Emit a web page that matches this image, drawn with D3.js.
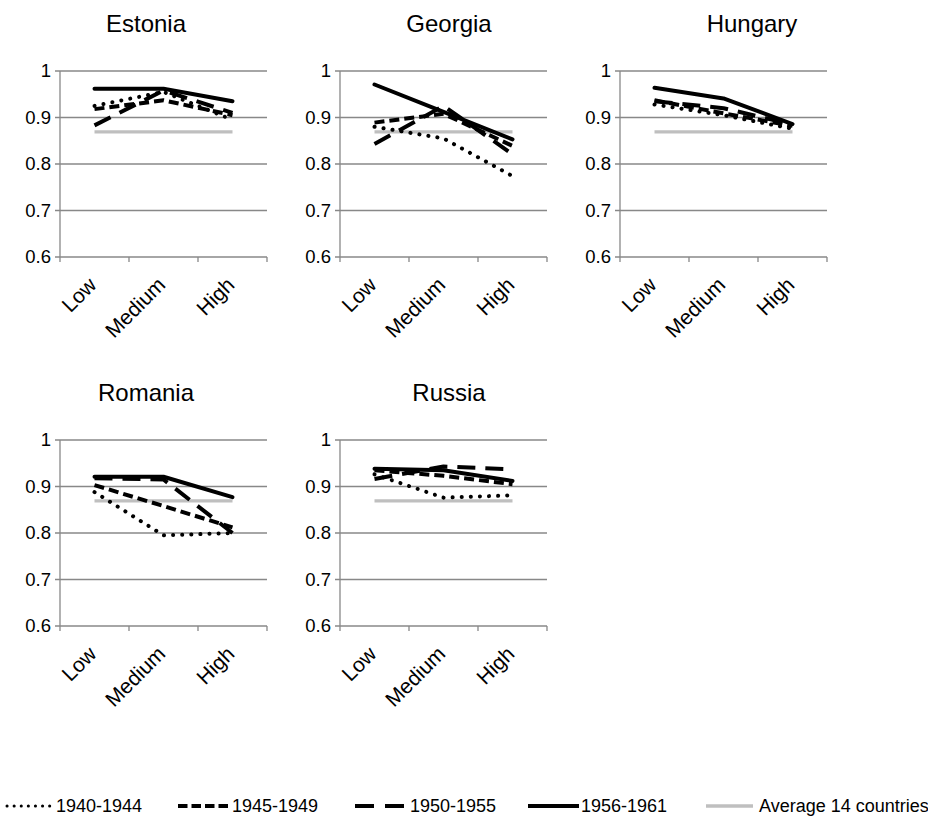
<!DOCTYPE html>
<html>
<head>
<meta charset="utf-8">
<script src="https://cdn.jsdelivr.net/npm/d3@7"></script>
<style>
  html, body { margin: 0; padding: 0; background: #fff; }
  svg { display: block; }
  text { font-family: "Liberation Sans", Arial, sans-serif; fill: #000; }
</style>
</head>
<body>
<svg id="chart" width="928" height="816"></svg>
<script>
// Education levels on the x axis
const levels = ["Low", "Medium", "High"];
// y axis ticks
const yTicks = [0.6, 0.7, 0.8, 0.9, 1];
const yTickLabels = ["0.6", "0.7", "0.8", "0.9", "1"];
// Countries (one small chart each)
const countries = ["Estonia", "Georgia", "Hungary", "Romania", "Russia"];
// Birth cohorts
const cohorts = ["1940-1944", "1945-1949", "1950-1955", "1956-1961", "Average 14 countries"];

// Values per cohort, per country: [Low, Medium, High]
const c1940 = {
  Estonia: [0.925, 0.955, 0.895],
  Georgia: [0.88, 0.855, 0.774],
  Hungary: [0.928, 0.905, 0.876],
  Romania: [0.888, 0.795, 0.80],
  Russia:  [0.926, 0.876, 0.881]
};
const c1945 = {
  Estonia: [0.918, 0.937, 0.905],
  Georgia: [0.889, 0.908, 0.839],
  Hungary: [0.937, 0.909, 0.882],
  Romania: [0.903, 0.858, 0.812],
  Russia:  [0.935, 0.923, 0.905]
};
const c1950 = {
  Estonia: [0.883, 0.958, 0.91],
  Georgia: [0.843, 0.925, 0.821],
  Hungary: [0.935, 0.92, 0.885],
  Romania: [0.918, 0.915, 0.80],
  Russia:  [0.916, 0.943, 0.937]
};
const c1956 = {
  Estonia: [0.962, 0.962, 0.935],
  Georgia: [0.971, 0.912, 0.853],
  Hungary: [0.964, 0.941, 0.886],
  Romania: [0.921, 0.921, 0.877],
  Russia:  [0.938, 0.935, 0.912]
};
const average14 = [0.869, 0.869, 0.869];

const seriesData = [c1940, c1945, c1950, c1956];

// Stroke style per cohort (chart lines and legend samples)
const styles = [
  { color: "#000", width: 4, dash: "0.1,9", cap: "round", legendDash: "0.1,7", legendWidth: 3 },
  { color: "#000", width: 4, dash: "10,5", cap: "butt", legendDash: "9.5,4", legendWidth: 4 },
  { color: "#000", width: 4, dash: "18,10", cap: "butt", legendDash: "19,11", legendWidth: 4 },
  { color: "#000", width: 4, dash: null, cap: "round", legendDash: null, legendWidth: 4 },
  { color: "#bfbfbf", width: 3.4, dash: null, cap: "butt", legendDash: null, legendWidth: 3.4 }
];

const svg = d3.select("#chart");

// Panel grid
const colX = [60, 340, 620];
const titleCX = [146, 449, 752];
const rowTop = [71, 440];
const titleBase = [32, 401];
const plotW = 207, plotH = 186;

const x = d3.scaleBand().domain(levels).range([0, plotW]).paddingInner(0).paddingOuter(0);
const y = d3.scaleLinear().domain([0.6, 1]).range([plotH, 0]);

countries.forEach((country, i) => {
  const col = i % 3, row = Math.floor(i / 3);
  const g = svg.append("g").attr("transform", `translate(${colX[col]},${rowTop[row]})`);

  svg.append("text")
    .attr("x", titleCX[col]).attr("y", titleBase[row])
    .attr("text-anchor", "middle")
    .style("font-size", "24px")
    .text(country);

  // horizontal gridlines
  g.selectAll("line.grid").data(yTicks).enter().append("line")
    .attr("x1", -5).attr("x2", plotW)
    .attr("y1", d => y(d)).attr("y2", d => y(d))
    .attr("stroke", "#888").attr("stroke-width", 1.3);

  // y axis line
  g.append("line").attr("x1", 0).attr("x2", 0).attr("y1", 0).attr("y2", plotH)
    .attr("stroke", "#888").attr("stroke-width", 1.3);

  // x tick marks at band boundaries
  const bounds = levels.map(l => x(l)).concat([plotW]);
  g.selectAll("line.xt").data(bounds).enter().append("line")
    .attr("x1", d => d).attr("x2", d => d).attr("y1", plotH).attr("y2", plotH + 5)
    .attr("stroke", "#888").attr("stroke-width", 1.3);

  // y tick labels
  g.selectAll("text.yl").data(yTicks).enter().append("text")
    .attr("x", -9).attr("y", d => y(d)).attr("dy", "0.35em")
    .attr("text-anchor", "end")
    .style("font-size", "18.5px")
    .text((d, k) => yTickLabels[k]);

  // x category labels, rotated
  g.selectAll("text.xl").data(levels).enter().append("text")
    .attr("transform", d => `translate(${x(d) + x.bandwidth() / 2 - 2},${plotH + 24}) rotate(-45)`)
    .attr("text-anchor", "end")
    .attr("dy", "0.35em")
    .style("font-size", "21px")
    .text(d => d);

  const line = d3.line().x((d, k) => x(levels[k]) + x.bandwidth() / 2).y(d => y(d));

  // average line first, cohorts drawn on top
  const all = [{ vals: average14, st: styles[4] }].concat(
    seriesData.map((s, k) => ({ vals: s[country], st: styles[k] })));
  all.forEach(s => {
    g.append("path")
      .attr("d", line(s.vals))
      .attr("fill", "none")
      .attr("stroke", s.st.color)
      .attr("stroke-width", s.st.width)
      .attr("stroke-linecap", s.st.cap)
      .attr("stroke-linejoin", "round")
      .attr("stroke-dasharray", s.st.dash);
  });
});

// Legend along the bottom
const legendY = 806;
const legendItems = [
  { x0: 7, x1: 50, tx: 56 },
  { x0: 178, x1: 231, tx: 232 },
  { x0: 355, x1: 404, tx: 410 },
  { x0: 528, x1: 579, tx: 581 },
  { x0: 706, x1: 753, tx: 759 }
];
const lg = svg.append("g").attr("class", "legend");
cohorts.forEach((name, k) => {
  const it = legendItems[k], st = styles[k];
  lg.append("line")
    .attr("x1", it.x0).attr("x2", it.x1)
    .attr("y1", legendY).attr("y2", legendY)
    .attr("stroke", st.color)
    .attr("stroke-width", st.legendWidth)
    .attr("stroke-linecap", k === 0 ? "round" : "butt")
    .attr("stroke-dasharray", st.legendDash);
  lg.append("text")
    .attr("x", it.tx).attr("y", legendY).attr("dy", "0.35em")
    .style("font-size", "18px")
    .text(name);
});
</script>
</body>
</html>
